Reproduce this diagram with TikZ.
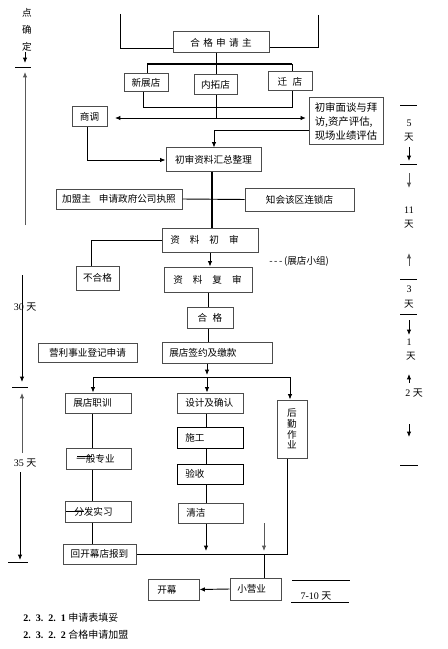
\documentclass[tikz,border=0pt]{standalone}
\usepackage{fontspec}
\setmainfont{Liberation Serif}
\newfontfamily\cjk{Noto Sans CJK SC}
\usetikzlibrary{arrows.meta}
\tikzset{
  box/.style={draw=gray!60!black, line width=0.75pt, inner sep=0pt, font=\cjk\fontsize{7.2}{9}\selectfont},
  bbox/.style={draw=black, line width=0.65pt},
  ln/.style={line width=0.7pt, draw=black},
  thk/.style={line width=1.6pt, draw=black},
  arr/.style={ln, -{Latex[length=4pt,width=3.4pt]}},
  darr/.style={ln, {Latex[length=4pt,width=3.4pt]}-{Latex[length=4pt,width=3.4pt]}},
  txt/.style={font=\cjk\fontsize{7.2}{9}\selectfont, inner sep=0pt},
  num/.style={font=\fontsize{7.5}{9}\selectfont, inner sep=0pt},
}
\newcommand\bx[7]{\node[box,#6,minimum width={(#4-#2)*0.75pt},minimum height={(#5-#3)*0.75pt}] (#1) at ({(#2+#4)/2},{(#3+#5)/2}) {#7};}
\newcommand\lbx[8]{\bx{#1}{#2}{#3}{#4}{#5}{#6}{}\node[txt,anchor=west] (#1t) at ({#2+#7},{(#3+#5)/2}) {#8};}
\begin{document}
\begin{tikzpicture}[x=0.75pt,y=-0.75pt]
\useasboundingbox (0,0) rectangle (448,649);
% ---------- boxes ----------
\bx{hg}{173}{32}{269}{53}{}{合\hspace{2.5pt}格\hspace{2.5pt}申\hspace{2.5pt}请\hspace{2.5pt}主}
\bx{xz}{124}{74}{168}{92}{}{新展店}
\bx{nt}{194}{75}{237}{95}{}{内拓店}
\bx{qd}{268}{72}{312}{91}{}{迁\hspace{4pt}店}
\bx{sd}{72}{107}{107}{127}{}{商调}
\bx{cm}{309}{98}{383}{145}{align=left,font=\cjk\fontsize{7.8}{10.5}\selectfont}{初审面谈与拜\\访,资产评估,\\现场业绩评估}
\bx{cz}{166}{148}{261}{171}{}{初审资料汇总整理}
\bx{jm}{56}{189}{182}{209}{}{加盟主\hspace{6pt}申请政府公司执照}
\bx{zh}{245}{188}{354}{211}{}{知会该区连锁店}
\lbx{cs}{162}{228}{258}{252}{}{8}{资\hspace{7.5pt}料\hspace{7.5pt}初\hspace{7.5pt}审}
\bx{bh}{76}{266}{119}{290}{}{不合格}
\lbx{fs}{164}{267}{252}{292}{}{9}{资\hspace{7.5pt}料\hspace{7.5pt}复\hspace{7.5pt}审}
\bx{hgb}{187}{307}{233}{328}{}{合\hspace{4pt}格}
\lbx{qy}{162}{342}{272}{363}{}{7}{展店签约及缴款}
\bx{yl}{38}{343}{137}{362}{}{营利事业登记申请}
\lbx{zx}{65}{393}{131}{413}{}{8}{展店职训}
\lbx{sj}{177}{393}{243}{413}{}{8}{设计及确认}
\bx{hq}{277}{400}{307}{458}{align=center,font=\cjk\fontsize{7.2}{8}\selectfont}{后\\勤\\作\\业}
\lbx{sg}{177}{427}{243}{448}{bbox}{8}{施工}
\lbx{ys}{177}{464}{243}{484}{bbox}{8}{验收}
\lbx{qj}{178}{503}{243}{523}{}{8}{清洁}
\lbx{yb}{66}{448}{131}{469}{}{10}{一般专业}
\lbx{ff}{65}{501}{131}{522}{}{9}{分发实习}
\bx{hk}{63}{544}{136}{564}{}{回开幕店报到}
\lbx{xy}{230}{578}{281}{600}{}{7}{小营业}
\lbx{km}{148}{579}{199}{600}{}{9}{开幕}
% ---------- top connectors ----------
\coordinate (tl) at (120,14); \coordinate (tlb) at (120,48);
\draw[ln] (tl) -- (tlb) -- (tlb -| hg.west);
\coordinate (tr) at (318,15); \coordinate (trb) at (318,47);
\draw[ln] (tr) -- (trb) -- (trb -| hg.east);
\coordinate (b1) at (147,64); \coordinate (b2) at (292,64);
\draw[thk] (b1) -- (b2);
\draw[ln] (b1) -- (b1 |- xz.north);
\draw[ln] (b2) -- (b2 |- qd.north);
\coordinate (m) at (216,118);
\draw[ln] (m |- hg.south) -- (m |- nt.north);
\coordinate (k1) at (143,107); \coordinate (k2) at (292,107);
\draw[ln] (k1 |- xz.south) -- (k1) -- (k2) -- (k2 |- qd.south);
\draw[ln] (m |- nt.south) -- (m);
\coordinate (aL) at (115,118);
\draw[darr] (aL) -- ([xshift=-2pt]cm.west |- m);
\coordinate (c1) at (214,130);
\draw[arr] (cm.west |- c1) -- (c1) -- (c1 |- cz.north);
\coordinate (c2) at (87,160);
\draw[arr] (c2 |- sd.south) -- (c2) -- (c2 -| cz.west);
\coordinate (v1) at (212,0);
\draw[thk] (v1 |- cz.south) -- (v1 |- cs.north);
\draw[ln] (jm.east) -- (zh.west);
\coordinate (c3) at (91,240);
\draw[ln] (cs.west |- c3) -- (c3) -- (c3 |- bh.north);
\coordinate (v2) at (210,0);
\draw[arr] (v2 |- cs.south) -- (v2 |- fs.north);
\coordinate (v5) at (208,0);
\draw[ln] (v5 |- fs.south) -- (v5 |- hgb.north);
\draw[ln] (v5 |- hgb.south) -- (v5 |- qy.north);
\node[txt, anchor=west] (zdxz) at (269,261) {-\,-\,-\,(展店小组)};
% ---------- bus ----------
\coordinate (bus) at (207,377);
\coordinate (bl) at (93,377); \coordinate (br) at (290,377);
\draw[arr] (bus |- qy.south) -- ([yshift=1.5pt]bus);
\draw[ln] (bl) -- (br);
\draw[arr] (bl) -- (bl |- zx.north);
\draw[arr] (bus) -- (bus |- sj.north);
\draw[arr] (br) -- (br |- hq.north);
% ---------- middle column ----------
\coordinate (v3) at (206,0);
\draw[ln] (v3 |- sj.south) -- (v3 |- sg.north);
\draw[ln] (v3 |- sg.south) -- (v3 |- ys.north);
\draw[ln] (v3 |- ys.south) -- (v3 |- qj.north);
\coordinate (e1) at (206,551);
\draw[arr] (v3 |- qj.south) -- (e1);
% ---------- left column ----------
\coordinate (v4) at (92,0);
\draw[ln] (v4 |- zx.south) -- (v4 |- yb.north);
\draw[ln] (v4 |- yb.south) -- (v4 |- ff.north);
\draw[ln] (v4 |- ff.south) -- (v4 |- hk.north);
\coordinate (s1) at (77,456); \coordinate (s2) at (92,456);
\draw[ln] (s1) -- (s2);
\coordinate (s3) at (66,511); \coordinate (s4) at (84,511);
\draw[ln] (s3) -- (s4);
% ---------- bottom ----------
\coordinate (hb) at (287,554);
\draw[ln] (hb |- hq.south) -- (hb) -- (hb -| hk.east);
\coordinate (g1) at (264,523); \coordinate (g2) at (264,551); \coordinate (g3) at (264,554);
\draw[arr, draw=gray!70!black] (g1) -- (g2);
\draw[ln] (g3) -- (g3 |- xy.north);
\draw[arr] (xy.west) -- (km.east);
\coordinate (d1) at (292,580); \coordinate (d2) at (350,580);
\coordinate (d3) at (291,602); \coordinate (d4) at (349,602);
\draw[ln] (d1) -- (d2); \draw[ln] (d3) -- (d4);
\node[num] (t710) at (316,596) {7-10 {\cjk 天}};
% ---------- left timeline ----------
\node[txt] (ld1) at (27,13) {点};
\node[txt] (ld2) at (27,30) {确};
\node[txt] (ld3) at (27,47) {定};
\coordinate (l1) at (25,52); \coordinate (l2) at (25,63);
\draw[arr] (l1) -- (l2);
\coordinate (l3) at (15,67); \coordinate (l4) at (31,67);
\draw[ln] (l3) -- (l4);
\coordinate (l5) at (25,225); \coordinate (l6) at (25,72);
\draw[arr, draw=gray!70!black] (l5) -- (l6);
\coordinate (l7) at (22,275); \coordinate (l8) at (22,382);
\draw[arr] (l7) -- (l8);
\node[num] (t30) at (25,307) {30 {\cjk 天}};
\coordinate (l9) at (12,387); \coordinate (l10) at (28,387);
\draw[ln] (l9) -- (l10);
\coordinate (l11) at (22,453); \coordinate (l12) at (22,393);
\draw[arr, draw=gray!70!black] (l11) -- (l12);
\node[num] (t35) at (25,463) {35 {\cjk 天}};
\coordinate (l13) at (20,472); \coordinate (l14) at (20,560);
\draw[arr] (l13) -- (l14);
\coordinate (l15) at (8,562); \coordinate (l16) at (28,562);
\draw[ln] (l15) -- (l16);
% ---------- right timeline ----------
\coordinate (r1) at (400,105); \coordinate (r2) at (417,105);
\draw[ln] (r1) -- (r2);
\node[num] (t5) at (409,123) {5};
\node[txt] (t5d) at (409,137) {天};
\coordinate (r3) at (409,147); \coordinate (r4) at (409,161);
\draw[arr] (r3) -- (r4);
\coordinate (r5) at (400,164); \coordinate (r6) at (417,164);
\draw[ln] (r5) -- (r6);
\coordinate (r7) at (409,173); \coordinate (r8) at (409,188);
\draw[arr, draw=gray!70!black] (r7) -- (r8);
\node[num] (t11) at (409,210) {11};
\node[txt] (t11d) at (409,224) {天};
\coordinate (r9) at (409,266); \coordinate (r10) at (409,253);
\draw[arr, draw=gray!70!black] (r9) -- (r10);
\coordinate (r11) at (400,279); \coordinate (r12) at (417,279);
\draw[ln] (r11) -- (r12);
\node[num] (t3) at (409,289) {3};
\node[txt] (t3d) at (409,304) {天};
\coordinate (r13) at (400,314); \coordinate (r14) at (417,314);
\draw[ln] (r13) -- (r14);
\coordinate (r15) at (409,320); \coordinate (r16) at (409,335);
\draw[arr] (r15) -- (r16);
\node[num] (t1) at (409,342) {1};
\node[txt] (t1d) at (411,356) {天};
\coordinate (r17) at (409,383); \coordinate (r18) at (409,374);
\draw[arr] (r17) -- (r18);
\node[num] (t2) at (414,393) {2 {\cjk 天}};
\coordinate (r19) at (409,424); \coordinate (r20) at (409,437);
\draw[arr] (r19) -- (r20);
\coordinate (r21) at (400,465); \coordinate (r22) at (418,465);
\draw[ln] (r21) -- (r22);
% ---------- footer ----------
\node[num, anchor=west] (f1) at (23,618) {\textbf{2.\ \ 3.\ \ 2.\ \ 1} {\cjk 申请表填妥}};
\node[num, anchor=west] (f2) at (23,635) {\textbf{2.\ \ 3.\ \ 2.\ \ 2} {\cjk 合格申请加盟}};
\end{tikzpicture}
\end{document}
